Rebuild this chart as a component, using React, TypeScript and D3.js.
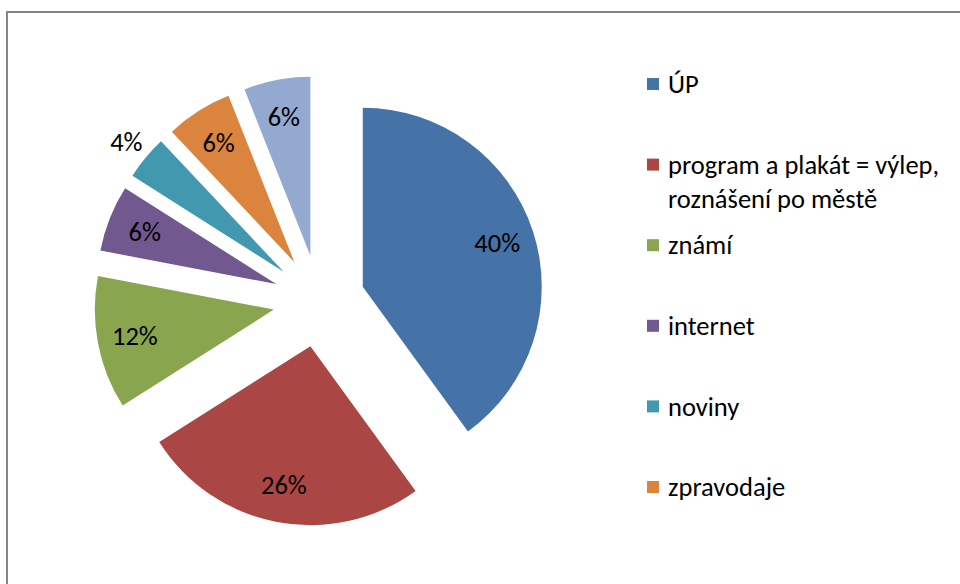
import React from "react";
import * as d3 from "d3";

const categories = [
  "ÚP",
  "program a plakát = výlep, roznášení po městě",
  "známí",
  "internet",
  "noviny",
  "zpravodaje",
  "ostatní",
];
const values = [40, 26, 12, 6, 4, 6, 6];
const legendLines = [
  ["ÚP"],
  ["program a plakát = výlep,", "roznášení po městě"],
  ["známí"],
  ["internet"],
  ["noviny"],
  ["zpravodaje"],
];
const colors = ["#4572A7", "#AA4643", "#89A54E", "#71588F", "#4198AF", "#DB843D", "#93A9CF"];

const W = 960;
const H = 584;
const FONT = "Carlito, Calibri, Lato, 'Open Sans', sans-serif";

export default function App() {
  const cx = 319;
  const cy = 301;
  const r = 179;
  const explode = 46;

  const pie = d3
    .pie<number>()
    .sort(null)
    .value((d) => d)
    .startAngle(0)
    .endAngle(2 * Math.PI);
  const arcs = pie(values);
  const arcGen = d3.arc<d3.PieArcDatum<number>>().innerRadius(0).outerRadius(r);
  const total = d3.sum(values);

  const legendX = 647;
  const legendY0 = 84;
  const legendStep = 80.6;
  const fontSize = 26.5;

  return (
    <svg
      width={W}
      height={H}
      style={{ position: "absolute", left: 0, top: 0, display: "block" }}
      fontFamily={FONT}
    >
      <rect x={0} y={0} width={W} height={H} fill="#fff" />
      <rect x={7} y={12} width={W + 20} height={H + 20} fill="none" stroke="#868686" strokeWidth={2} />
      <g>
        {arcs.map((a, i) => {
          const mid = (a.startAngle + a.endAngle) / 2;
          const dx = Math.sin(mid);
          const dy = -Math.cos(mid);
          const ox = cx + explode * dx;
          const oy = cy + explode * dy;
          const pct = (a.data / total) * 100;
          const lr = pct < 5 ? explode + r + 25 : explode + 0.79 * r;
          return (
            <g key={i}>
              <path d={arcGen(a) || ""} transform={`translate(${ox},${oy})`} fill={colors[i]} />
              <text
                x={cx + lr * dx}
                y={cy + lr * dy}
                dy="0.35em"
                textAnchor="middle"
                fontSize={fontSize}
                fill="#000"
              >
                {`${Math.round(pct)}%`}
              </text>
            </g>
          );
        })}
      </g>
      <g>
        {legendLines.map((lines, i) => {
          const y = legendY0 + i * legendStep;
          return (
            <g key={i}>
              <rect x={legendX} y={y - 6} width={12} height={12} fill={colors[i]} />
              {lines.map((ln, j) => (
                <text key={j} x={legendX + 21} y={y + j * 34} dy="0.35em" fontSize={fontSize} fill="#000">
                  {ln}
                </text>
              ))}
            </g>
          );
        })}
      </g>
    </svg>
  );
}
